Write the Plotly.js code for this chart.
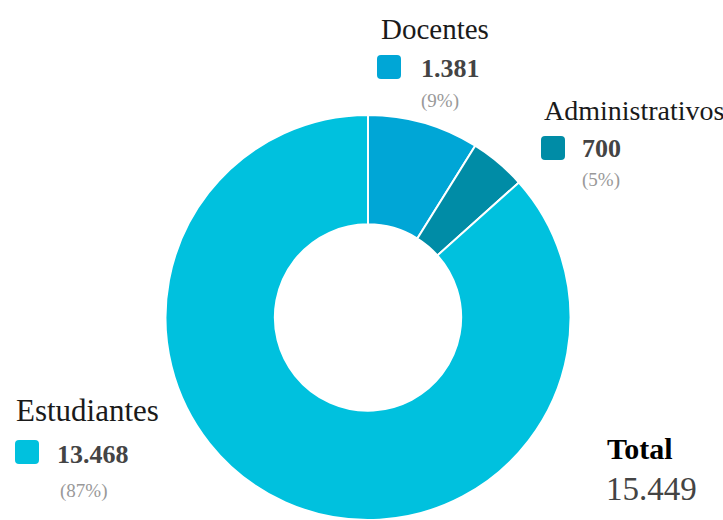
<!DOCTYPE html>
<html>
<head>
<meta charset="utf-8">
<script src="https://cdn.plot.ly/plotly-3.0.1.min.js"></script>
<style>
  html, body { margin: 0; padding: 0; background: #fff; overflow: hidden; }
  #chart { width: 723px; height: 520px; }
</style>
</head>
<body>
<div id="chart"></div>
<script>
// Data
const categories = ["Docentes", "Administrativos", "Estudiantes"];
const values = [1381, 700, 13468];
const percentLabels = ["(9%)", "(5%)", "(87%)"];
const colors = ["#00A6D6", "#008CA6", "#00C1DE"];
const totalLabel = "Total";
const totalValue = 15449;

const W = 723, H = 520;
const px = x => x / W;
const py = y => 1 - y / H;
const fmt = n => String(n).replace(/\B(?=(\d{3})+(?!\d))/g, ".");

const FONT = "Liberation Serif, Times New Roman, serif";

// label block positions and name font sizes (layout only)
const blocks = [
  { fs: 29, name: {x: 379, y: 29}, sq: {x: 377, y: 55}, val: {x: 419, y: 68.5}, p: {x: 419, y: 101.5} },
  { fs: 28, name: {x: 542, y: 110}, sq: {x: 541, y: 136}, val: {x: 580, y: 148.5}, p: {x: 580, y: 179.5} },
  { fs: 31, name: {x: 14, y: 410}, sq: {x: 15, y: 440}, val: {x: 55, y: 454}, p: {x: 58, y: 490.5} }
];

const annotations = [];
const shapes = [];

function roundRect(x, y, w, h, r) {
  const X = v => px(v), Y = v => py(v);
  return "M " + X(x + r) + "," + Y(y) +
    " L " + X(x + w - r) + "," + Y(y) +
    " Q " + X(x + w) + "," + Y(y) + " " + X(x + w) + "," + Y(y + r) +
    " L " + X(x + w) + "," + Y(y + h - r) +
    " Q " + X(x + w) + "," + Y(y + h) + " " + X(x + w - r) + "," + Y(y + h) +
    " L " + X(x + r) + "," + Y(y + h) +
    " Q " + X(x) + "," + Y(y + h) + " " + X(x) + "," + Y(y + h - r) +
    " L " + X(x) + "," + Y(y + r) +
    " Q " + X(x) + "," + Y(y) + " " + X(x + r) + "," + Y(y) + " Z";
}

categories.forEach((c, i) => {
  const b = blocks[i];
  annotations.push({
    text: c, xref: "paper", yref: "paper", x: px(b.name.x), y: py(b.name.y),
    xanchor: "left", yanchor: "middle", showarrow: false,
    font: {family: FONT, size: b.fs, color: "#1a1a1a"}
  });
  annotations.push({
    text: "<b>" + fmt(values[i]) + "</b>", xref: "paper", yref: "paper",
    x: px(b.val.x), y: py(b.val.y), xanchor: "left", yanchor: "middle", showarrow: false,
    font: {family: FONT, size: 26, color: "#444444"}
  });
  annotations.push({
    text: percentLabels[i], xref: "paper", yref: "paper",
    x: px(b.p.x), y: py(b.p.y), xanchor: "left", yanchor: "middle", showarrow: false,
    font: {family: FONT, size: 19, color: "#999999"}
  });
  shapes.push({
    type: "path", xref: "paper", yref: "paper",
    path: roundRect(b.sq.x, b.sq.y, 24, 24, 4),
    fillcolor: colors[i], line: {width: 0}
  });
});

annotations.push({
  text: "<b>" + totalLabel + "</b>", xref: "paper", yref: "paper",
  x: px(605), y: py(448), xanchor: "left", yanchor: "middle", showarrow: false,
  font: {family: FONT, size: 30, color: "#000000"}
});
annotations.push({
  text: fmt(totalValue), xref: "paper", yref: "paper",
  x: px(604), y: py(488.5), xanchor: "left", yanchor: "middle", showarrow: false,
  font: {family: FONT, size: 33, color: "#444444"}
});

const trace = {
  type: "pie",
  labels: categories,
  values: values,
  marker: {colors: colors, line: {color: "#ffffff", width: 2}},
  hole: 0.46,
  sort: false,
  direction: "clockwise",
  rotation: 0,
  textinfo: "none",
  hoverinfo: "label+value+percent",
  showlegend: false,
  domain: {x: [px(165), px(571)], y: [py(520), py(115)]}
};

const layout = {
  width: W, height: H,
  margin: {l: 0, r: 0, t: 0, b: 0},
  paper_bgcolor: "#ffffff",
  font: {family: FONT},
  showlegend: false,
  annotations: annotations,
  shapes: shapes
};

Plotly.newPlot("chart", [trace], layout, {displayModeBar: false, staticPlot: true});
</script>
</body>
</html>
